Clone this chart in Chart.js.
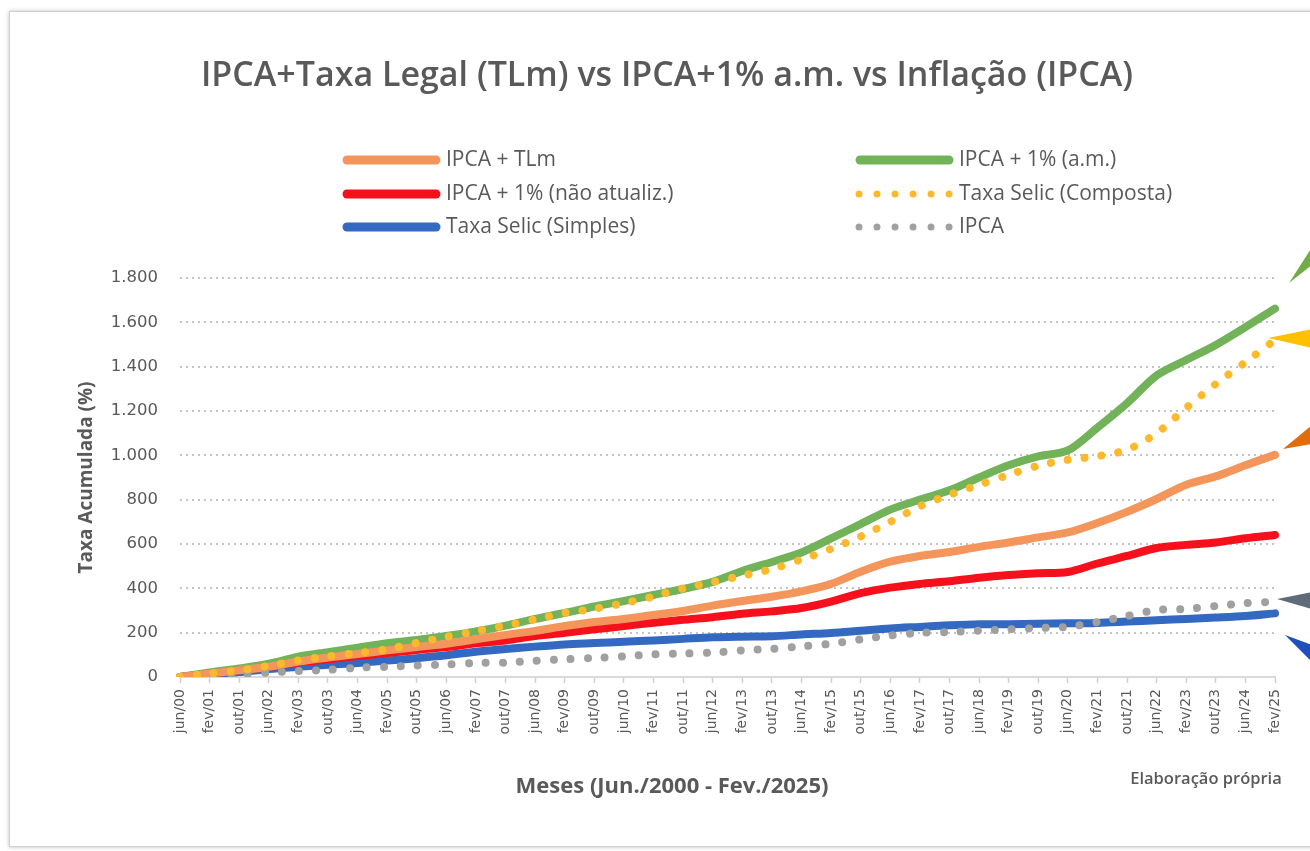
<!DOCTYPE html>
<html>
<head>
<meta charset="utf-8">
<script src="https://cdn.jsdelivr.net/npm/chart.js@4.4.1/dist/chart.umd.min.js"></script>
<style>
  html, body { margin: 0; padding: 0; background: #fff; overflow: hidden; }
  #card { position: absolute; left: 9px; top: 11px; width: 1400px; height: 834px;
          border: 1px solid #cfcfcf; box-shadow: 0 0 4px rgba(0,0,0,0.25); background: #fff; }
  #wrap { position: absolute; left: 0; top: 0; width: 1310px; height: 851px; }
</style>
</head>
<body>
<div id="card"></div>
<div id="wrap"><canvas id="taxaChart"></canvas></div>
<script>
// meses mostrados no eixo (a cada 8 meses, jun/2000 - fev/2025)
const meses = ["jun/00","fev/01","out/01","jun/02","fev/03","out/03","jun/04","fev/05","out/05","jun/06",
  "fev/07","out/07","jun/08","fev/09","out/09","jun/10","fev/11","out/11","jun/12","fev/13",
  "out/13","jun/14","fev/15","out/15","jun/16","fev/17","out/17","jun/18","fev/19","out/19",
  "jun/20","fev/21","out/21","jun/22","fev/23","out/23","jun/24","fev/25"];

// taxa acumulada (%)
const ipcaTLm = [0, 15, 30, 46, 70, 88, 104, 120, 135, 150, 170, 190, 208, 230, 248, 262, 280, 298, 322, 343,
  362, 386, 420, 475, 520, 546, 564, 587, 607, 630, 652, 695, 745, 803, 867, 905, 955, 1002];
const ipca1am = [0, 20, 38, 60, 92, 112, 132, 152, 167, 185, 206, 232, 262, 289, 318, 343, 370, 397, 429, 478,
  519, 562, 625, 690, 755, 800, 842, 900, 955, 995, 1022, 1125, 1235, 1360, 1430, 1498, 1578, 1662];
const ipca1na = [0, 15, 30, 45, 65, 80, 95, 108, 122, 135, 152, 165, 185, 200, 215, 230, 245, 258, 270, 285,
  296, 311, 340, 378, 403, 420, 432, 448, 460, 468, 474, 512, 546, 582, 596, 607, 626, 641];
const selicComposta = [0, 15, 30, 50, 75, 93, 108, 125, 154, 181, 207, 232, 260, 289, 308, 333, 363, 400, 428, 457,
  487, 530, 578, 634, 700, 770, 822, 867, 912, 953, 980, 996, 1025, 1100, 1214, 1322, 1420, 1520];
const selicSimples = [0, 10, 22, 36, 46, 55, 63, 74, 85, 98, 114, 126, 137, 147, 153, 159, 165, 172, 179, 182,
  184, 192, 199, 209, 219, 226, 233, 238, 238, 240, 242, 244, 250, 256, 262, 268, 275, 287];
const ipca = [0, 5, 12, 20, 27, 32, 42, 46, 52, 56, 63, 65, 73, 80, 86, 93, 102, 106, 110, 120,
  127, 138, 150, 170, 187, 199, 203, 209, 215, 221, 226, 248, 275, 302, 307, 320, 333, 339];

const cinzaTexto = '#595959';
const pontilhado = [0.01, 17];

// setas decorativas na borda direita
const setas = [
  { cor: '#70AD47', pts: [[1289, 283], [1312, 247], [1312, 265]] },
  { cor: '#FFC000', pts: [[1268, 338], [1312, 329], [1312, 348]] },
  { cor: '#E36C0A', pts: [[1283, 449], [1312, 425], [1312, 444]] },
  { cor: '#5F6B7A', pts: [[1277, 599], [1312, 592], [1312, 609]] },
  { cor: '#1F4FBF', pts: [[1285, 635], [1312, 645], [1312, 662]] }
];

const extras = {
  id: 'extras',
  afterDraw(chart) {
    const ctx = chart.ctx;
    ctx.save();
    ctx.fillStyle = cinzaTexto;
    ctx.textAlign = 'center';
    ctx.textBaseline = 'middle';
    ctx.font = '600 34px "Open Sans"';
    ctx.fillText('IPCA+Taxa Legal (TLm) vs IPCA+1% a.m. vs Inflação (IPCA)', 667, 76);

    // legenda em duas colunas
    const cols = [342, 855];
    const rows = [160, 194, 227];
    chart.data.datasets.forEach((ds, i) => {
      const x = cols[i % 2], y = rows[Math.floor(i / 2)];
      ctx.save();
      ctx.strokeStyle = ds.borderColor;
      ctx.lineCap = 'round';
      ctx.beginPath();
      if (ds.borderDash) {
        ctx.lineWidth = 7;
        ctx.setLineDash([0.01, 18]);
        ctx.moveTo(x + 4, y);
        ctx.lineTo(x + 95, y);
      } else {
        ctx.lineWidth = 9;
        ctx.moveTo(x + 5, y);
        ctx.lineTo(x + 94, y);
      }
      ctx.stroke();
      ctx.restore();
      ctx.textAlign = 'left';
      ctx.font = '21px "Open Sans"';
      ctx.fillText(ds.label, x + 104, y);
    });

    ctx.textAlign = 'center';
    ctx.font = 'bold 22px "Open Sans"';
    ctx.fillText('Meses (Jun./2000 - Fev./2025)', 672, 787);
    ctx.font = '600 16.5px "Open Sans"';
    ctx.fillText('Elaboração própria', 1206, 779);

    setas.forEach(s => {
      ctx.fillStyle = s.cor;
      ctx.beginPath();
      ctx.moveTo(s.pts[0][0], s.pts[0][1]);
      ctx.lineTo(s.pts[1][0], s.pts[1][1]);
      ctx.lineTo(s.pts[2][0], s.pts[2][1]);
      ctx.closePath();
      ctx.fill();
    });
    ctx.restore();
  }
};

function serie(label, data, color, dotted, order) {
  const ds = {
    label: label,
    data: data,
    borderColor: color,
    backgroundColor: color,
    borderWidth: dotted ? 8 : 8,
    pointRadius: 0,
    tension: 0.3,
    borderCapStyle: 'round',
    borderJoinStyle: 'round',
    order: order,
    fill: false
  };
  if (dotted) ds.borderDash = pontilhado;
  return ds;
}

new Chart('taxaChart', {
  type: 'line',
  data: {
    labels: meses,
    datasets: [
      serie('IPCA + TLm', ipcaTLm, '#F4955B', false, 2),
      serie('IPCA + 1% (a.m.)', ipca1am, '#72B35A', false, 2),
      serie('IPCA + 1% (não atualiz.)', ipca1na, '#F5101C', false, 2),
      serie('Taxa Selic (Composta)', selicComposta, '#FDB92C', true, 1),
      serie('Taxa Selic (Simples)', selicSimples, '#3469C1', false, 2),
      serie('IPCA', ipca, '#A0A0A0', true, 1)
    ]
  },
  options: {
    responsive: true,
    maintainAspectRatio: false,
    animation: false,
    layout: { padding: { top: 278, left: 59, right: 35, bottom: 53 } },
    plugins: {
      legend: { display: false },
      title: { display: false },
      tooltip: { enabled: false }
    },
    scales: {
      x: {
        afterFit: s => { s.height = 121; },
        grid: { drawOnChartArea: false, drawTicks: true, tickLength: 6, tickColor: '#d0d0d0', tickWidth: 1.5 },
        border: { display: true, color: '#d9d9d9', width: 2 },
        ticks: {
          autoSkip: false, minRotation: 90, maxRotation: 90, padding: 6,
          color: cinzaTexto, font: { family: 'DejaVu Sans', size: 14 }
        }
      },
      y: {
        min: 0, max: 1800,
        afterFit: s => { s.width = 121; },
        grid: { color: '#c4c4c4', lineWidth: 2, drawTicks: false },
        border: { display: false, dash: [2, 4] },
        ticks: {
          stepSize: 200, padding: 22, color: cinzaTexto,
          font: { family: 'DejaVu Sans', size: 16.5 },
          callback: v => v >= 1000 ? Math.floor(v / 1000) + '.' + String(v % 1000).padStart(3, '0') : String(v)
        },
        title: {
          display: true, text: 'Taxa Acumulada (%)', color: cinzaTexto,
          font: { family: 'Open Sans', size: 19, weight: 'bold' },
          padding: { top: 16, bottom: 0 }
        }
      }
    }
  },
  plugins: [extras]
});
</script>
</body>
</html>
